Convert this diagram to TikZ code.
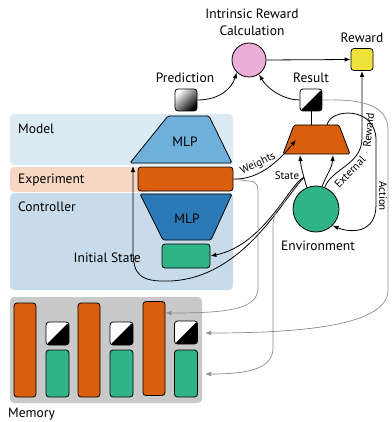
\documentclass[tikz,border=0pt]{standalone}
\usepackage{fontspec}
\setmainfont{PT Sans}
\usetikzlibrary{arrows.meta}

\definecolor{modelbg}{HTML}{DCEAF3}
\definecolor{exptbg}{HTML}{F7D7C3}
\definecolor{ctrlbg}{HTML}{C8DBEA}
\definecolor{mlplight}{HTML}{6EB0DA}
\definecolor{mlpdark}{HTML}{2C79B7}
\definecolor{orangeF}{HTML}{D95F0E}
\definecolor{greenF}{HTML}{2EB487}
\definecolor{pinkF}{HTML}{EBAED6}
\definecolor{yellowF}{HTML}{EFE23A}
\definecolor{memF}{HTML}{C9C9C9}
\definecolor{lineG}{HTML}{8C8C8C}

\tikzset{
  box/.style={draw=black, line width=0.8pt, rounded corners=3pt, inner sep=0pt},
  splitbox/.style={box, fill=white, minimum size=22pt,
    path picture={\fill[black] (path picture bounding box.south west) --
      (path picture bounding box.south east) --
      (path picture bounding box.north east) -- cycle;}},
  bar/.style={box, fill=orangeF, minimum width=22pt, minimum height=94pt},
  gbar/.style={box, fill=greenF, minimum width=23pt, minimum height=47pt},
  trap/.style={draw=black, line width=0.8pt, rounded corners=1.5pt},
  flow/.style={line width=0.8pt, -{Latex[length=6pt,width=4.5pt]}},
  link/.style={line width=0.8pt},
  memflow/.style={draw=lineG, line width=0.7pt, -{Latex[length=6pt,width=4.5pt]}},
  edgetext/.style={font=\fontsize{11}{13}\selectfont, inner sep=1pt},
}

\begin{document}
\begin{tikzpicture}[x=1pt,y=-1pt,font=\fontsize{13.5}{17}\selectfont]
\useasboundingbox (0,0) rectangle (391,422);

% background panels
\fill[modelbg, rounded corners=4pt] (10,114) rectangle (233,165);
\fill[exptbg, rounded corners=4pt] (10,167) rectangle (150,192);
\fill[ctrlbg, rounded corners=4pt] (10,193) rectangle (233,290);
\node[anchor=west, inner sep=0pt] (modellbl) at (18,129) {Model};
\node[anchor=west, inner sep=0pt] (exptlbl) at (18,180) {Experiment};
\node[anchor=west, inner sep=0pt] (ctrllbl) at (18,207) {Controller};

% model network
\draw[trap, fill=mlplight] (168,116) -- (209,116) -- (232,163) -- (130,163) -- cycle;
\node (mlpmodel) at (185,142) {MLP};
\coordinate (modelin) at (133,166);

% experiment encoding
\node[box, fill=orangeF, minimum width=95pt, minimum height=24pt] (expt) at (185.5,179) {};

% controller network
\draw[trap, fill=mlpdark] (140,194) -- (232,194) -- (211,240) -- (163,240) -- cycle;
\node (mlpctrl) at (187,219) {MLP};

% initial state
\node[box, fill=greenF, minimum width=48pt, minimum height=24pt] (init) at (186,256) {};
\node[anchor=east, inner sep=0pt] (initlbl) at (141,258) {Initial State};

% prediction and result
\node[box, minimum size=22pt, top color=white, bottom color=black, shading angle=45] (pred) at (186,100) {};
\node (predlbl) at (185,78) {Prediction};
\node[splitbox] (res) at (311,100) {};
\node (reslbl) at (311,78) {Result};

% intrinsic reward
\node[circle, draw=black, line width=0.8pt, fill=pinkF, minimum size=34pt, inner sep=0pt] (irc) at (249,60) {};
\node[align=center] (irclbl) at (252,22) {Intrinsic Reward\\Calculation};

% reward
\node[box, fill=yellowF, minimum size=22pt] (rew) at (362,59.5) {};
\node (rewlbl) at (362,38) {Reward};

% experimental apparatus
\draw[trap, fill=orangeF] (294,125) -- (339,125) -- (350,154) -- (283,154) -- cycle;
\coordinate (apptop) at (311,125);
\coordinate (appright) at (327,125);

% environment
\node[circle, draw=black, line width=0.8pt, fill=greenF, minimum size=46pt, inner sep=0pt] (env) at (316,209) {};
\node (envlbl) at (318,246) {Environment};

% memory
\node[fill=memF, rounded corners=4pt, minimum width=192pt, minimum height=106pt, inner sep=0pt] (mem) at (106,350) {};
\node[anchor=west, inner sep=0pt] (memlbl) at (8,414) {Memory};
\node[bar] (b1) at (25,350) {};
\node[splitbox, minimum size=23pt] (r1) at (57.5,333.5) {};
\node[gbar] (g1) at (57.5,373.5) {};
\node[bar] (b2) at (89,350) {};
\node[splitbox, minimum size=23pt] (r2) at (121.5,333.5) {};
\node[gbar] (g2) at (121.5,373.5) {};
\node[bar] (b3) at (154,348.5) {};
\node[splitbox, minimum size=23pt] (r3) at (186,332.5) {};
\node[gbar] (g3) at (186,373.5) {};

% reward flow
\draw[flow] (pred.east) .. controls (220,100) and (232,88) .. (irc.-135);
\draw[flow] (res.west) .. controls (285,100) and (268,90) .. (irc.-55);
\draw[flow] (irc.east) -- (rew.west);
\draw[link] (res.south) -- (apptop);

% weights into the apparatus
\draw[flow] (expt.east) .. controls (258,180) and (278,162) .. (296,140);
\node[edgetext, rotate=26] (wlbl) at (258,164) {Weights};

% environment and apparatus
\coordinate (stbr) at (304,177.6);
\draw[flow] (env.113) .. controls (304,178) and (301,168) .. (300,155);
\draw[flow] (env.75) .. controls (326,176) and (332,168) .. (333,155);
\node[edgetext] (stlbl) at (287,176) {State};
\draw[flow] (stbr) .. controls (292,180) and (265,245) .. (init.east);
\draw[flow] (stbr) .. controls (285,195) and (245,278) .. (170,281)
  .. controls (140,282) and (133,275) .. (133,250) -- (modelin);

% external reward
\draw[flow] (env.68) .. controls (332,168) and (362,165) .. (362,138) -- (rew.south);
\node[edgetext, rotate=46] (extlbl) at (350,172) {External};
\node[edgetext, rotate=84] (extrlbl) at (368.5,130) {Reward};

% action
\draw[flow] (appright) .. controls (330,108) and (376,106) .. (376,140)
  -- (376,205) .. controls (376,234) and (350,233) .. (env.-45);
\node[edgetext, rotate=-90] (actlbl) at (383,196) {Action};

% storage into memory
\draw[memflow] (expt.east) -- (248,181) .. controls (258,181) and (258,186) .. (258,196)
  -- (258,288) .. controls (258,310) and (225,313) .. (b3.east |- 0,313);
\draw[memflow] (res.east) .. controls (360,99) and (388,104) .. (388,130)
  -- (388,290) .. controls (388,326) and (300,333) .. (205,333);
\draw[memflow] (285.6,200.7) .. controls (276,210) and (273,215) .. (273,228)
  -- (273,348) .. controls (273,370) and (245,374) .. (205,374);
\end{tikzpicture}
\end{document}
